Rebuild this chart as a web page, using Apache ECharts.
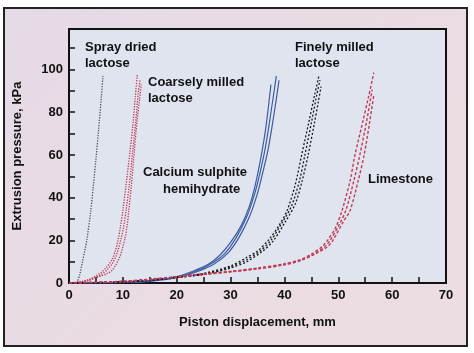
<!DOCTYPE html>
<html>
<head>
<meta charset="utf-8">
<script src="https://cdn.jsdelivr.net/npm/echarts@6/dist/echarts.min.js"></script>
<style>
  html, body { margin: 0; padding: 0; background: #ffffff; }
  #wrap { position: relative; width: 474px; height: 353px; }
  #frame {
    position: absolute; left: 3px; top: 7px; width: 461px; height: 336px;
    border: 2px solid #222;
    background: linear-gradient(135deg, #e5dae7 0%, #ebdce3 60%, #ecdde2 100%);
  }
  #chart { position: absolute; left: 0; top: 0; width: 474px; height: 353px; }
</style>
</head>
<body>
<div id="wrap">
  <div id="frame"></div>
  <div id="chart"></div>
</div>
<script>
// axis ticks
const xTicks = [0, 10, 20, 30, 40, 50, 60, 70];
const yTicks = [0, 20, 40, 60, 80, 100];

// curves: [displacement mm, pressure kPa]
const sprayDried = [[1.5,0],[2,4],[2.5,10],[3,16],[3.3,20],[4,33],[4.5,45],[5,58],[5.5,72],[6,87],[6.3,97]];

const coarseA = [[0,0],[2,0.5],[4,2],[6,5],[7,7.5],[8,11],[8.6,15],[9.1,20],[9.6,27],[10,34],[10.6,46],[11.3,61],[11.9,75],[12.3,87],[12.7,98]];
const coarseB = [[0,0],[2,0.4],[4,1.6],[6,4],[7,6],[8,9],[8.8,13],[9.6,20],[10.2,27],[10.6,34],[11.2,46],[11.8,61],[12.4,76],[12.9,90],[13.2,95]];
const coarseC = [[0,0],[3,0.8],[5,2.5],[7,4.3],[8,6],[8.7,8.5],[9.4,12],[9.9,16],[10.4,21],[10.8,27],[11.1,34],[11.6,46],[12.1,61],[12.6,75],[13.1,86],[13.4,93]];

const calciumA = [[0,0],[10,0.3],[15,1],[20,3],[23,5.5],[26,9],[28,13],[30,19],[32,27],[33.5,36],[34.5,45],[35.5,57],[36.5,72],[37.5,93]];
const calciumB = [[0,0],[10,0.3],[15,1],[20,2.8],[24,6],[27,10],[29,14],[31,21],[33,31],[34.5,42],[35.5,52],[36.5,64],[37.5,80],[38.5,97]];
const calciumC = [[0,0],[10,0.2],[15,0.8],[20,2.5],[24,5.5],[27,9],[29.5,14],[31.5,21],[33.5,31],[35,42],[36,52],[37,63],[38,78],[39,95]];

const finelyA = [[0,0],[10,0.5],[15,1.5],[20,2.8],[25,4.5],[30,8],[33,12],[35,15],[37,20],[39,27],[40.5,34],[42,46],[43.2,60],[44.5,75],[45.6,88],[46.4,97]];
const finelyB = [[0,0],[10,0.45],[15,1.3],[20,2.6],[25,4.2],[30,7.5],[33,11],[35.5,15],[37.5,20],[39.5,28],[41.3,36],[42.8,48],[43.8,60],[45,75],[46,88],[46.6,95]];
const finelyC = [[0,0],[10,0.4],[15,1.2],[20,2.5],[25,4],[30,7],[33,10],[36,15],[38,20],[40,28],[42,37],[43.3,48],[44.4,60],[45.5,74],[46.3,85],[46.8,92]];

const limeA = [[0,0],[10,0.8],[15,1.8],[20,3],[25,4.3],[30,5.5],[35,7],[40,9],[43,11],[45,13.5],[47,17],[48,20],[49.5,26],[50.7,34],[52.2,48],[53.1,60],[54.5,75],[55.6,87],[56.6,98.6]];
const limeB = [[0,0],[10,0.75],[15,1.7],[20,2.8],[25,4.1],[30,5.3],[35,6.8],[40,8.7],[43,10.7],[45.5,13.5],[47.5,17],[48.5,20],[50.3,28],[51.4,34],[52.9,48],[54,60],[55.2,75],[56.3,90.6]];
const limeC = [[0,0],[10,0.7],[15,1.6],[20,2.7],[25,4],[30,5.2],[35,6.6],[40,8.5],[43,10.5],[46,14],[48,17],[49,20],[51,29],[52.2,34],[53.7,48],[54.8,60],[55.8,75],[56.6,88]];

const chart = echarts.init(document.getElementById('chart'));

const FONT = 'Liberation Sans, Arial, sans-serif';

function curve(data, color, type, width) {
  return {
    type: 'line',
    data: data,
    smooth: 0.3,
    symbol: 'none',
    silent: true,
    lineStyle: { color: color, width: width || 1.3, type: type }
  };
}

const BLUE = '#3b5ca3';
const RED = '#c43a52';
const GREY = '#4d5560';
const BLACK = '#1a1a1a';

chart.setOption({
  animation: false,
  backgroundColor: 'transparent',
  grid: {
    left: 69, right: 28, top: 29, bottom: 70,
    show: true,
    backgroundColor: '#dfe4ef',
    borderColor: '#111',
    borderWidth: 2
  },
  xAxis: {
    type: 'value',
    min: 0, max: 70, interval: 5,
    name: 'Piston displacement, mm',
    nameLocation: 'middle',
    nameGap: 33,
    nameTextStyle: { color: '#111', fontFamily: FONT, fontWeight: 'bold', fontSize: 13 },
    axisLine: { show: true, lineStyle: { color: '#111', width: 2 } },
    axisTick: { show: true, inside: true, length: 6, lineStyle: { color: '#111', width: 1.5 } },
    axisLabel: {
      color: '#111', fontFamily: FONT, fontWeight: 'bold', fontSize: 13, margin: 6,
      formatter: v => xTicks.includes(v) ? String(v) : ''
    },
    splitLine: { show: false }
  },
  yAxis: {
    type: 'value',
    min: 0, max: 119, interval: 10,
    name: 'Extrusion pressure, kPa',
    nameLocation: 'middle',
    nameGap: 45,
    nameTextStyle: { color: '#111', fontFamily: FONT, fontWeight: 'bold', fontSize: 13 },
    axisLine: { show: true, lineStyle: { color: '#111', width: 2 } },
    axisTick: { show: true, inside: true, length: 6, lineStyle: { color: '#111', width: 1.5 } },
    axisLabel: {
      color: '#111', fontFamily: FONT, fontWeight: 'bold', fontSize: 13, margin: 6,
      formatter: v => yTicks.includes(v) ? String(v) : ''
    },
    splitLine: { show: false }
  },
  series: [
    curve(sprayDried, GREY, 'dotted', 1.3),
    curve(coarseA, RED, 'dotted'),
    curve(coarseB, RED, 'dotted'),
    curve(coarseC, RED, 'dotted'),
    curve(calciumA, BLUE, 'solid', 1.2),
    curve(calciumB, BLUE, 'solid', 1.2),
    curve(calciumC, BLUE, 'solid', 1.2),
    curve(finelyA, BLACK, [2, 2]),
    curve(finelyB, BLACK, [2, 2]),
    curve(finelyC, BLACK, [2, 2]),
    curve(limeA, RED, [3, 2], 1.4),
    curve(limeB, RED, [3, 2], 1.4),
    curve(limeC, RED, [3, 2], 1.4)
  ],
  graphic: [
    { type: 'text', left: 85, top: 39, style: { text: 'Spray dried\nlactose', fill: '#111', font: 'bold 13px ' + FONT, lineHeight: 16 } },
    { type: 'text', left: 148, top: 74, style: { text: 'Coarsely milled\nlactose', fill: '#111', font: 'bold 13px ' + FONT, lineHeight: 16 } },
    { type: 'text', left: 143, top: 166, style: { text: 'Calcium sulphite', fill: '#111', font: 'bold 13px ' + FONT } },
    { type: 'text', left: 163, top: 183, style: { text: 'hemihydrate', fill: '#111', font: 'bold 13px ' + FONT } },
    { type: 'text', left: 295, top: 39, style: { text: 'Finely milled\nlactose', fill: '#111', font: 'bold 13px ' + FONT, lineHeight: 16 } },
    { type: 'text', left: 368, top: 173, style: { text: 'Limestone', fill: '#111', font: 'bold 13px ' + FONT } }
  ]
});
</script>
</body>
</html>
